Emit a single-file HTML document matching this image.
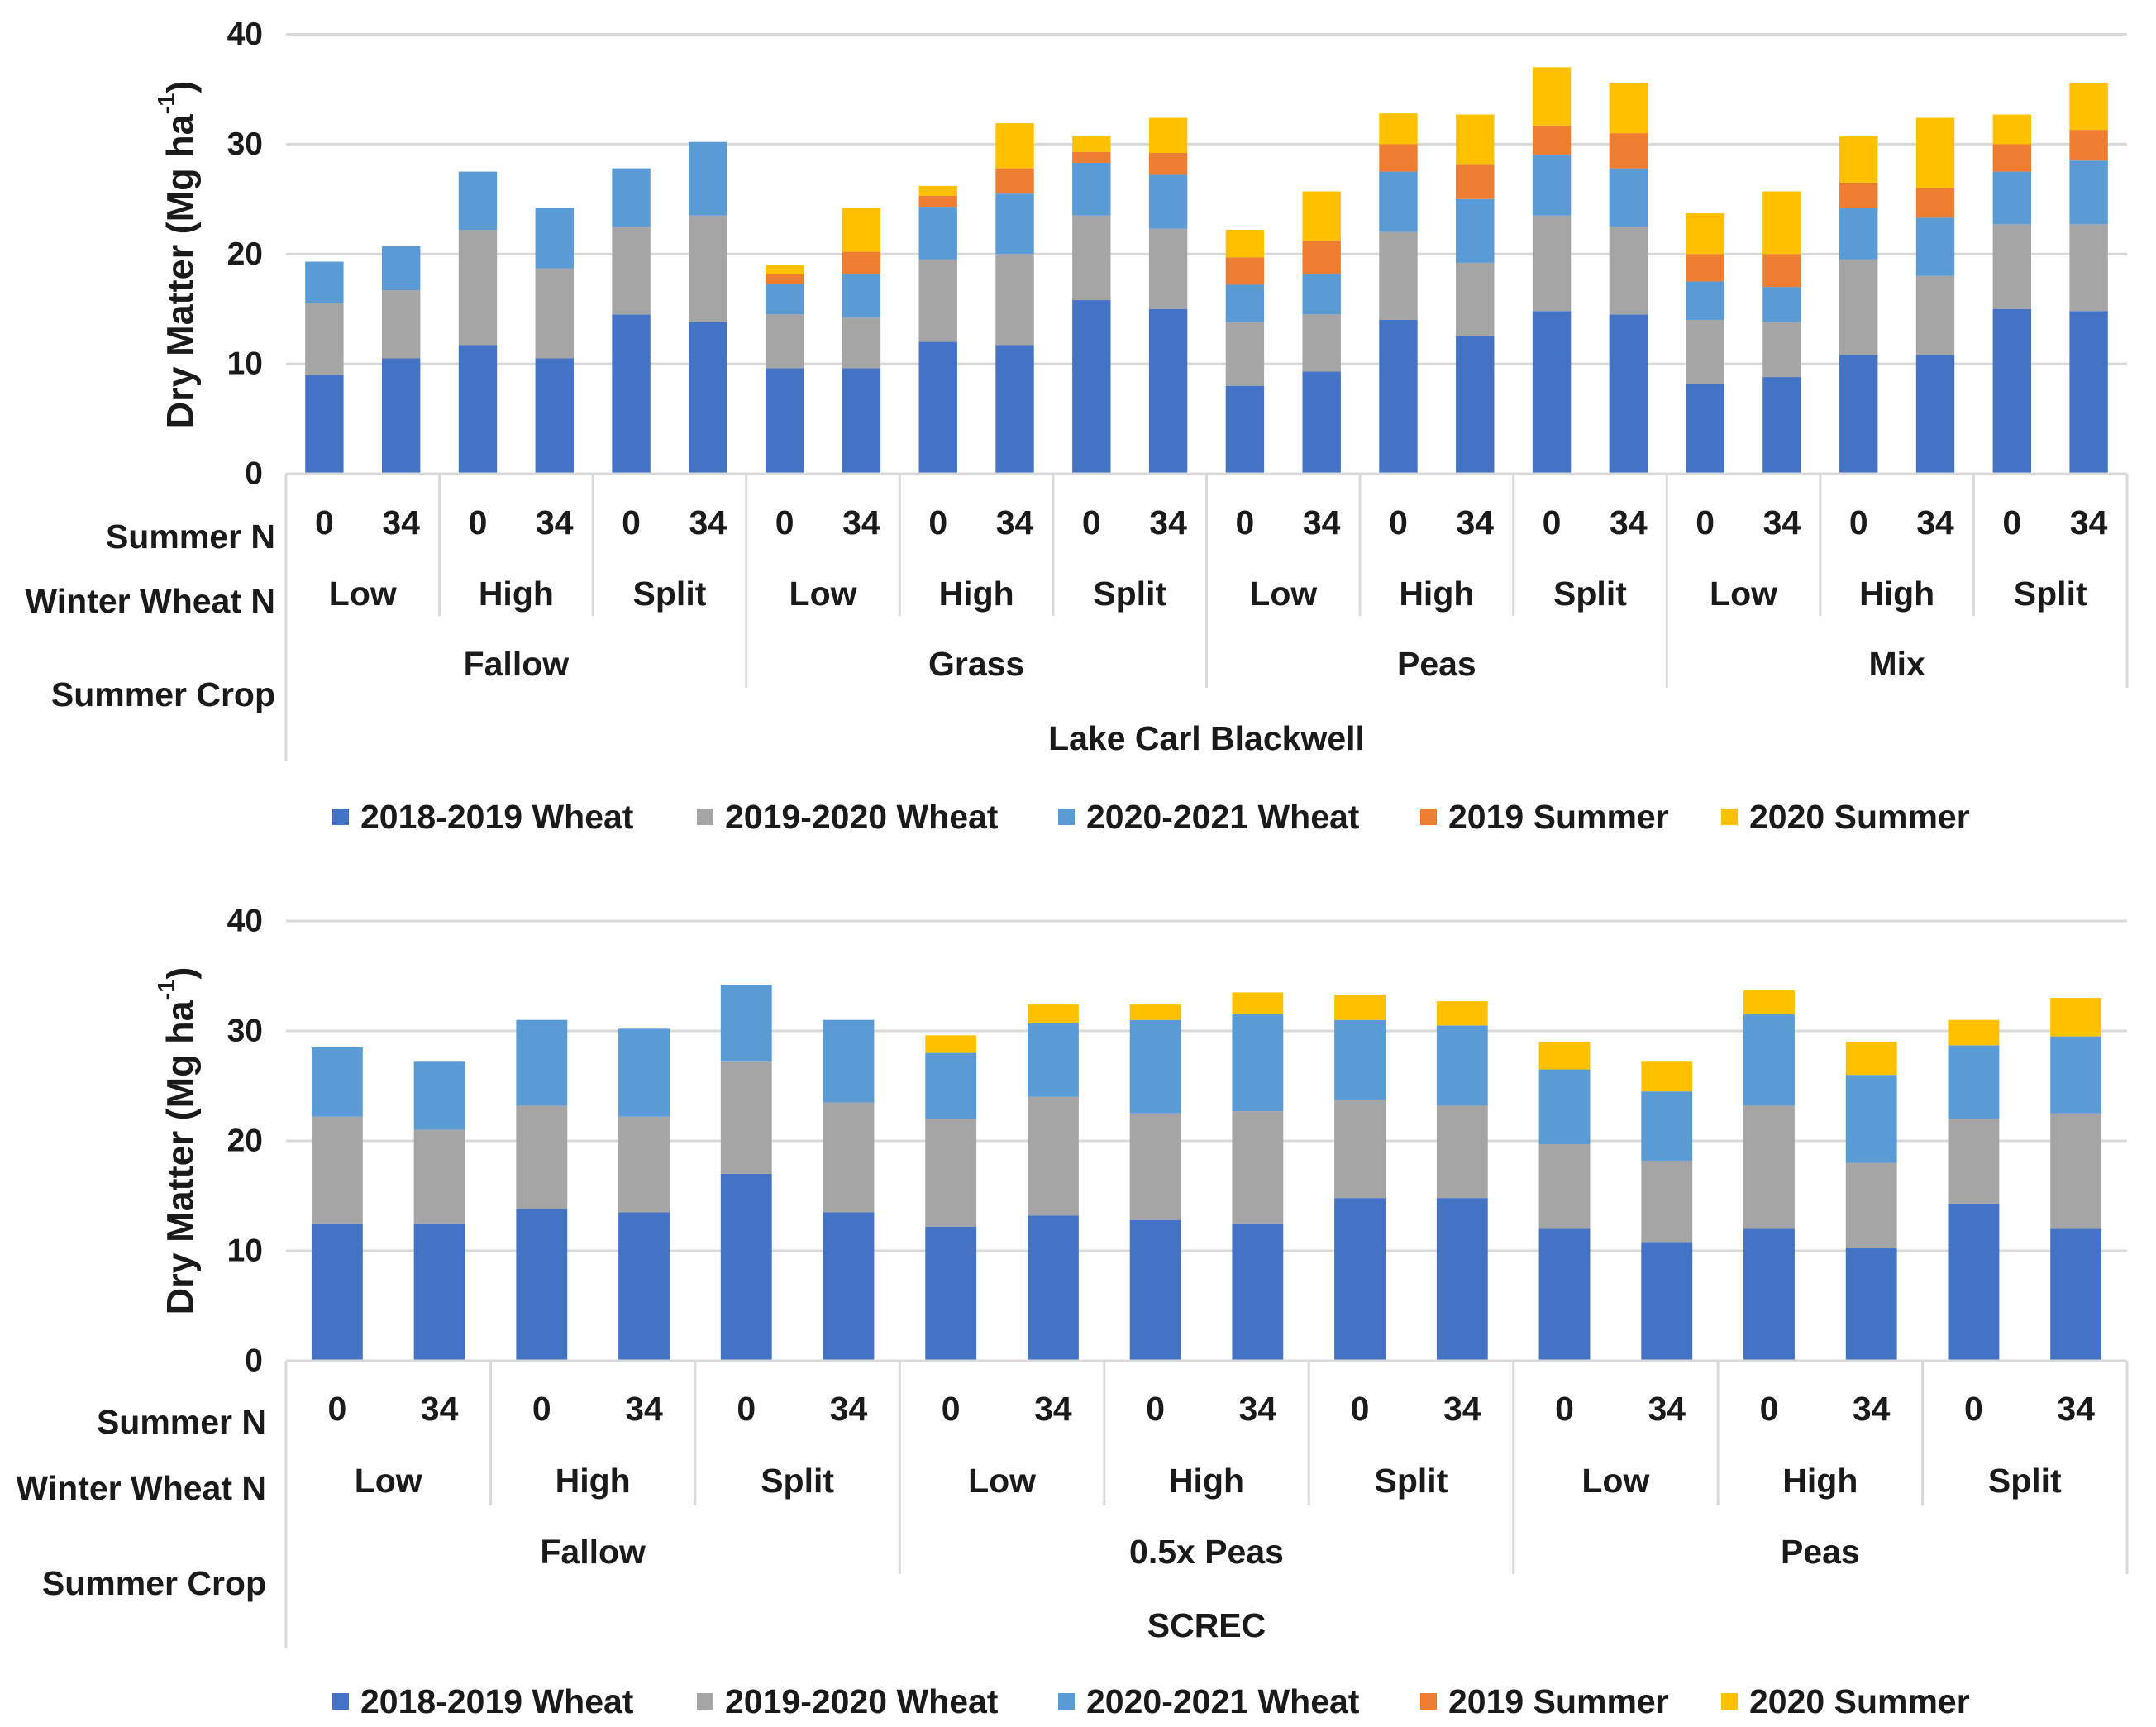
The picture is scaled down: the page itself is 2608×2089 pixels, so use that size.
<!DOCTYPE html>
<html><head><meta charset="utf-8">
<style>
html,body{margin:0;padding:0;background:#fff;}
svg{display:block;font-family:"Liberation Sans",sans-serif;}
</style></head>
<body>
<svg id="chart" width="2608" height="2089" viewBox="0 0 2608 2089" xmlns="http://www.w3.org/2000/svg"></svg>
<script>
// ---------- data ----------
const yTicks = [0, 10, 20, 30, 40];
const summerN = ["0", "34"];
const winterN = ["Low", "High", "Split"];
const seriesNames = ["2018-2019 Wheat", "2019-2020 Wheat", "2020-2021 Wheat", "2019 Summer", "2020 Summer"];
const seriesColors = ["#4472C4", "#A5A5A5", "#5B9BD5", "#ED7D31", "#FFC000"];

const topCrops = ["Fallow", "Grass", "Peas", "Mix"];
const topSite = "Lake Carl Blackwell";
const topW1819 = [9.0,10.5,11.7,10.5,14.5,13.8, 9.6,9.6,12.0,11.7,15.8,15.0, 8.0,9.3,14.0,12.5,14.8,14.5, 8.2,8.8,10.8,10.8,15.0,14.8];
const topW1920 = [6.5,6.2,10.5,8.2,8.0,9.7, 4.9,4.6,7.5,8.3,7.7,7.3, 5.8,5.2,8.0,6.7,8.7,8.0, 5.8,5.0,8.7,7.2,7.7,7.9];
const topW2021 = [3.8,4.0,5.3,5.5,5.3,6.7, 2.8,4.0,4.8,5.5,4.8,4.9, 3.4,3.7,5.5,5.8,5.5,5.3, 3.5,3.2,4.7,5.3,4.8,5.8];
const topS2019 = [0,0,0,0,0,0, 0.9,2.0,1.0,2.3,1.0,2.0, 2.5,3.0,2.5,3.2,2.7,3.2, 2.5,3.0,2.3,2.7,2.5,2.8];
const topS2020 = [0,0,0,0,0,0, 0.8,4.0,0.9,4.1,1.4,3.2, 2.5,4.5,2.8,4.5,5.3,4.6, 3.7,5.7,4.2,6.4,2.7,4.3];

const botCrops = ["Fallow", "0.5x Peas", "Peas"];
const botSite = "SCREC";
const botW1819 = [12.5,12.5,13.8,13.5,17.0,13.5, 12.2,13.2,12.8,12.5,14.8,14.8, 12.0,10.8,12.0,10.3,14.3,12.0];
const botW1920 = [9.7,8.5,9.4,8.7,10.2,10.0, 9.8,10.8,9.7,10.2,8.9,8.4, 7.7,7.4,11.2,7.7,7.7,10.5];
const botW2021 = [6.3,6.2,7.8,8.0,7.0,7.5, 6.0,6.7,8.5,8.8,7.3,7.3, 6.8,6.3,8.3,8.0,6.7,7.0];
const botS2019 = [0,0,0,0,0,0, 0,0,0,0,0,0, 0,0,0,0,0,0];
const botS2020 = [0,0,0,0,0,0, 1.6,1.7,1.4,2.0,2.3,2.2, 2.5,2.7,2.2,3.0,2.3,3.5];

// ---------- drawing ----------
const NS = "http://www.w3.org/2000/svg";
const svg = document.getElementById("chart");
const FS = 41;
function mk(tag, attrs, parent) {
  const e = document.createElementNS(NS, tag);
  for (const k in attrs) e.setAttribute(k, attrs[k]);
  (parent || svg).appendChild(e);
  return e;
}
function txt(s, x, y, size, anchor, weight, parent) {
  const t = mk("text", {x: x, y: y, "font-size": size, "text-anchor": anchor || "middle", "dominant-baseline": "central", "font-weight": weight || "bold", fill: "#1a1a1a"}, parent);
  t.textContent = s;
  return t;
}

function drawPanel(cfg) {
  const g = mk("g", {});
  
  
  const x0 = 346, x1 = 2573;
  const yScale = v => cfg.y0 - (v / 40) * (cfg.y0 - cfg.y40);
  const n = cfg.series[0].length;
  const cw = (x1 - x0) / n;
  const xCenter = i => x0 + cw * (i + 0.5);

  yTicks.forEach(t => {
    const gl = mk("line", {x1: x0, x2: x1, y1: yScale(t), y2: yScale(t), stroke: "#D9D9D9", "stroke-width": 3}, g);
    
    
    const tl = txt(String(t), x0 - 28, yScale(t), 39, "end", "bold", g);
    
    
  });

  for (let i = 0; i < n; i++) {
    let cum = 0;
    cfg.series.forEach((arr, s) => {
      const v = arr[i];
      if (v <= 0) return;
      const yt = yScale(cum + v), yb = yScale(cum);
      const r = mk("rect", {x: xCenter(i) - cw * 0.25, y: yt, width: cw * 0.5, height: yb - yt, fill: seriesColors[s]}, g);
      
      
      cum += v;
    });
  }

  mk("line", {x1: x0, x2: x1, y1: cfg.y0, y2: cfg.y0, stroke: "#D9D9D9", "stroke-width": 3}, g);
  mk("line", {x1: x0, x2: x0, y1: cfg.y0, y2: cfg.leftEnd, stroke: "#D9D9D9", "stroke-width": 3}, g);
  mk("line", {x1: x1, x2: x1, y1: cfg.y0, y2: cfg.cropEnd, stroke: "#D9D9D9", "stroke-width": 3}, g);
  for (let k = 1; k < n / 2; k++) {
    const x = x0 + cw * 2 * k;
    const isCrop = (k % 3 === 0);
    mk("line", {x1: x, x2: x, y1: cfg.y0, y2: isCrop ? cfg.cropEnd : cfg.winEnd, stroke: "#D9D9D9", "stroke-width": 3}, g);
  }

  for (let i = 0; i < n; i++) {
    const t = txt(summerN[i % 2], xCenter(i), cfg.rowN, FS, "middle", "bold", g);
    
    
  }
  for (let k = 0; k < n / 2; k++) {
    const t = txt(winterN[k % 3], x0 + cw * (2 * k + 1), cfg.rowW, FS, "middle", "bold", g);
    
    
  }
  cfg.crops.forEach((c, k) => {
    const t = txt(c, x0 + cw * (6 * k + 3), cfg.rowC, FS, "middle", "bold", g);
    
    
  });
  const st = txt(cfg.site, (x0 + x1) / 2, cfg.rowS, FS, "middle", "bold", g);
  
  

  const rh1 = txt("Summer N", cfg.hdrX, cfg.hdrN, FS, "end", "bold", g);
  
  
  const rh2 = txt("Winter Wheat N", cfg.hdrX, cfg.hdrW, FS, "end", "bold", g);
  
  
  const rh3 = txt("Summer Crop", cfg.hdrX, cfg.hdrC, FS, "end", "bold", g);
  
  

  const yt = mk("text", {x: 0, y: 0, "font-size": 45, "text-anchor": "middle", "dominant-baseline": "central", "font-weight": "bold", fill: "#1a1a1a", transform: "translate(218," + cfg.titleY + ") rotate(-90)"}, g);
  
  
  yt.appendChild(document.createTextNode("Dry Matter (Mg ha"));
  const sup = mk("tspan", {dy: -16, "font-size": 29}, yt);
  sup.textContent = "-1";
  const cl = mk("tspan", {dy: 16}, yt);
  cl.textContent = ")";

  const lx = [402, 843, 1280, 1718, 2082];
  seriesNames.forEach((nm, s) => {
    const lg = mk("g", {}, g);
    
    
    mk("rect", {x: lx[s], y: cfg.legendY - 10, width: 20, height: 20, fill: seriesColors[s]}, lg);
    txt(nm, lx[s] + 34, cfg.legendY, FS, "start", "bold", lg);
  });
}

drawPanel({name: "lake-carl-blackwell-chart", series: [topW1819, topW1920, topW2021, topS2019, topS2020],
  crops: topCrops, site: topSite, y40: 41.5, y0: 573,
  rowN: 632, rowW: 718, rowC: 803, rowS: 893,
  hdrX: 333, hdrN: 649, hdrW: 727, hdrC: 840,
  winEnd: 745, cropEnd: 832, leftEnd: 920, legendY: 988, titleY: 308});

drawPanel({name: "screc-chart", series: [botW1819, botW1920, botW2021, botS2019, botS2020],
  crops: botCrops, site: botSite, y40: 1114, y0: 1646,
  rowN: 1704, rowW: 1791, rowC: 1877, rowS: 1966,
  hdrX: 322, hdrN: 1720, hdrW: 1800, hdrC: 1915,
  winEnd: 1821, cropEnd: 1904, leftEnd: 1994, legendY: 2058, titleY: 1380});
</script>
</body></html>
